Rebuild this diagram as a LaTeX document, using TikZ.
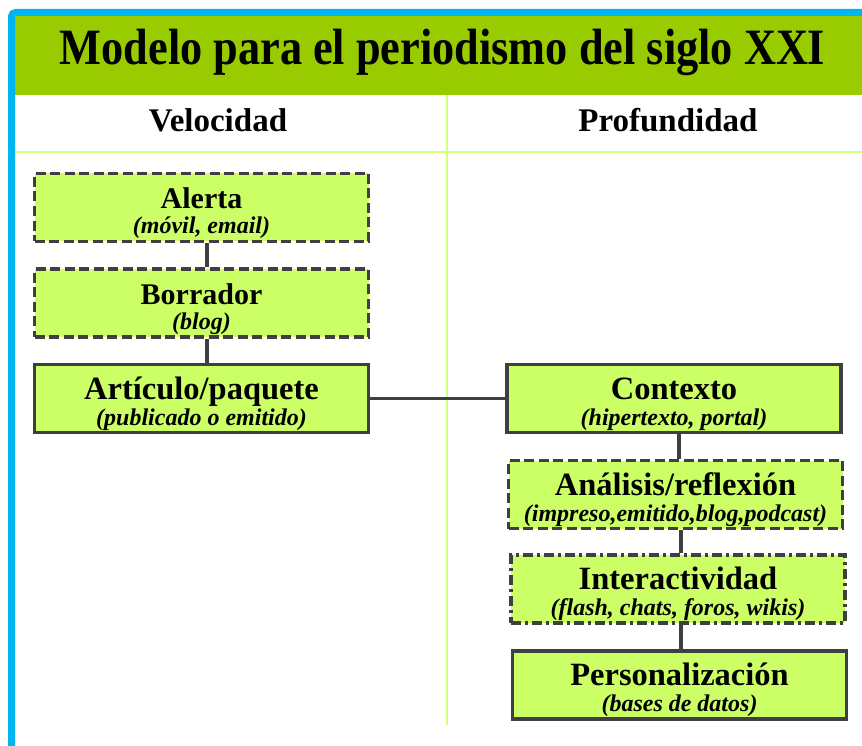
\documentclass[tikz,border=0pt]{standalone}
\usepackage{fontspec}
\setmainfont{Liberation Serif}
\usetikzlibrary{calc}
\definecolor{frameblue}{HTML}{00B4F0}
\definecolor{headgreen}{HTML}{99CC00}
\definecolor{boxgreen}{HTML}{CCFF66}
\definecolor{gridgreen}{HTML}{D4FF80}
\definecolor{edgegray}{HTML}{3F3F3F}
\begin{document}
\begin{tikzpicture}[x=1pt,y=-1pt,
  stagebox/.style={draw=edgegray, fill=boxgreen, line width=3.2pt, rectangle,
    minimum width=334pt, minimum height=68pt, inner sep=0pt, align=center,
    font=\fontsize{32.5}{34}\selectfont\bfseries},
  smallbox/.style={stagebox, font=\fontsize{30}{32}\selectfont\bfseries},
  dashedbox/.style={dash pattern=on 10pt off 4.5pt},
  dashdotbox/.style={dash pattern=on 10pt off 4pt on 3pt off 4pt},
  link/.style={draw=edgegray, line width=3.2pt},
  grid/.style={draw=gridgreen, line width=2pt},
  heading/.style={font=\fontsize{33}{33}\selectfont\bfseries, anchor=base, inner sep=0pt}
]
\newcommand{\subt}[1]{\fontsize{24}{24}\selectfont\bfseries\itshape #1}
\newcommand{\topstrut}{\rule{0pt}{33pt}}
\useasboundingbox (0,0) rectangle (862,746);
\fill[white] (0,0) rectangle (862,746);
% header band
\fill[headgreen] (15,16) rectangle (862,95);
% grid lines
\draw[grid] (15,152) -- (862,152);
\draw[grid] (447,95) -- (447,725);
% blue frame
\draw[frameblue, line width=7pt, rounded corners=4pt] (11.5,746) -- (11.5,12.5) -- (862,12.5);
% title
\node[anchor=base, inner sep=0pt] (title) at (442.5,65)
  {\scalebox{1}[1.15]{\fontsize{44.3}{45}\selectfont\bfseries Modelo para el periodismo del siglo XXI}};
\node[heading] (vel) at (218,132) {Velocidad};
\node[heading] (prof) at (668,132) {Profundidad};
% boxes
\node[smallbox, dashedbox] (alerta) at (201.5,207.5)
  {\topstrut Alerta\\[-7pt]\subt{(móvil, email)}};
\node[smallbox, dashedbox] (borrador) at (201.5,303)
  {\topstrut Borrador\\[-7pt]\subt{(blog)}};
\node[stagebox] (articulo) at (201.5,398.5)
  {\topstrut Artículo/paquete\\[-8pt]\subt{(publicado o emitido)}};
\node[stagebox] (contexto) at (674,398.5)
  {\topstrut Contexto\\[-8pt]\subt{(hipertexto, portal)}};
\node[stagebox, dashedbox] (analisis) at (675.5,494.5)
  {\topstrut Análisis/reflexión\\[-8pt]\subt{(impreso,emitido,blog,podcast)}};
\node[stagebox, dashdotbox] (interact) at (678,589)
  {\topstrut Interactividad\\[-8pt]\subt{(flash, chats, foros, wikis)}};
\node[stagebox] (personal) at (679.5,685)
  {\topstrut Personalización\\[-8pt]\subt{(bases de datos)}};
% connectors
\draw[link] ([xshift=5.5pt]alerta.south) -- ([xshift=5.5pt]borrador.north);
\draw[link] ([xshift=5.5pt]borrador.south) -- ([xshift=5.5pt]articulo.north);
\draw[link] (articulo.east) -- (contexto.west);
\draw[link] ([xshift=5pt]contexto.south) -- ([xshift=3.5pt]analisis.north);
\draw[link] ([xshift=5.5pt]analisis.south) -- ([xshift=3pt]interact.north);
\draw[link] ([xshift=3pt]interact.south) -- ([xshift=1.5pt]personal.north);
\end{tikzpicture}
\end{document}
